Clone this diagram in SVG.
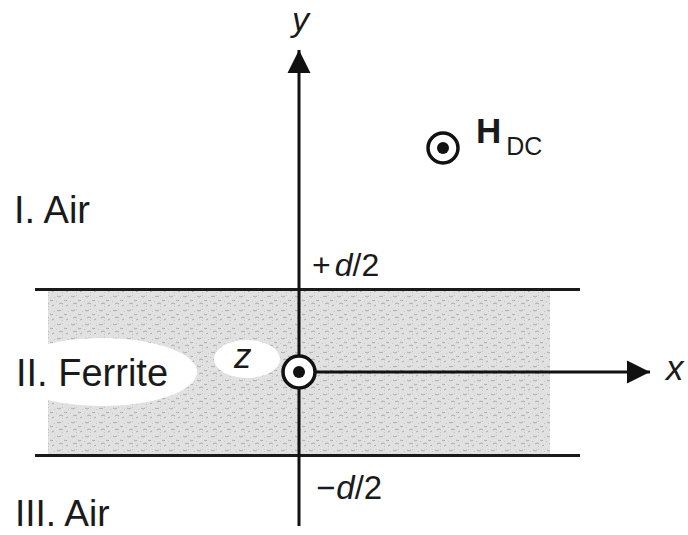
<svg xmlns="http://www.w3.org/2000/svg" width="688" height="535" viewBox="0 0 688 535">
  <style>
    .lbl { font-family: "Liberation Sans", Arial, sans-serif; fill: #1a1a1a; }
    .reg { font-size: 38px; }
    .it { font-style: italic; }
    .ax { stroke: #111; stroke-width: 3; fill: none; }
    .bound { stroke: #1a1a1a; stroke-width: 3; }
    .dotc { fill: #fff; stroke: #111; stroke-width: 3.5; }
  </style>
  <defs>
    <pattern id="stipple" width="14" height="14" patternUnits="userSpaceOnUse">
      <rect width="14" height="14" fill="#e1e1e1"/>
      <path d="M1 2 l2 1 l2 -1 M8 6 l2 1 l1 -1 M3 10 l2 -1 l2 1 M10 12 l2 -1" stroke="#aaaaaa" stroke-width="1" fill="none"/>
      <path d="M6 1 l1 1 M12 3 l1 1 M0 7 l1 1 M6 12 l1 1" stroke="#c4c4c4" stroke-width="1" fill="none"/>
    </pattern>
    <marker id="arr" markerUnits="userSpaceOnUse" markerWidth="24" markerHeight="24" viewBox="0 0 24 24" refX="23" refY="12" orient="auto">
      <path d="M0 0.5 L23 12 L0 23.5 Z" fill="#111"/>
    </marker>
  </defs>
  <rect width="688" height="535" fill="#fff"/>

  <g id="ferrite-slab">
    <rect x="48" y="290" width="502" height="165" fill="url(#stipple)"/>
    <line class="bound" x1="35" y1="289.5" x2="580" y2="289.5"/>
    <line class="bound" x1="35" y1="455.5" x2="580" y2="455.5"/>
  </g>

  <g id="connectors">
    <line class="ax" x1="299" y1="526" x2="299" y2="50" marker-end="url(#arr)"/>
    <line class="ax" x1="299" y1="372" x2="650" y2="372" marker-end="url(#arr)"/>
  </g>

  <g id="region-I">
    <text class="lbl reg" x="14" y="223">I. Air</text>
  </g>
  <g id="region-II">
    <ellipse cx="102" cy="372" rx="95" ry="34" fill="#fff"/>
    <text class="lbl reg" x="16" y="386">II. Ferrite</text>
  </g>
  <g id="region-III">
    <text class="lbl" x="15" y="526" font-size="37">III. Air</text>
  </g>

  <g id="z-label">
    <ellipse cx="247" cy="359" rx="33" ry="19" fill="#fff"/>
    <text class="lbl it" x="234" y="368" font-size="35">z</text>
  </g>

  <g id="origin">
    <circle class="dotc" cx="299" cy="372" r="16"/>
    <circle cx="299" cy="372" r="6" fill="#111"/>
  </g>

  <g id="y-label">
    <text class="lbl it" x="292" y="31" font-size="34">y</text>
  </g>
  <g id="x-label">
    <text class="lbl it" x="666" y="380" font-size="35">x</text>
  </g>

  <g id="top-boundary-label">
    <text class="lbl" x="312" y="276" font-size="32">+<tspan class="it" dx="4">d</tspan>/2</text>
  </g>
  <g id="bottom-boundary-label">
    <text class="lbl" x="316" y="499" font-size="33">−<tspan class="it" dx="1">d</tspan>/2</text>
  </g>

  <g id="hdc">
    <circle cx="443" cy="148" r="15" fill="#fff" stroke="#111" stroke-width="3.5"/>
    <circle cx="443" cy="148" r="6" fill="#111"/>
    <text class="lbl" x="476" y="143" font-size="35" font-weight="bold">H<tspan font-weight="normal" font-size="25" dx="5" dy="12">DC</tspan></text>
  </g>
</svg>
